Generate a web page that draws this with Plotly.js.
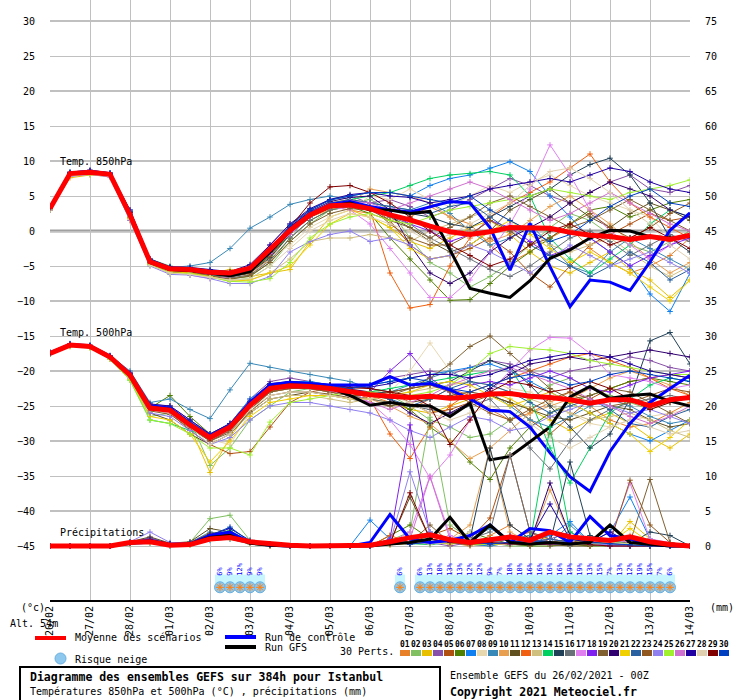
<!DOCTYPE html>
<html>
<head>
<meta charset="utf-8">
<script src="https://cdn.plot.ly/plotly-3.0.1.min.js"></script>
<style>
body { margin: 0; background: #fff; }
#chart { width: 740px; height: 700px; }
</style>
</head>
<body>
<div id="chart"></div>
<script>
// forecast steps (hours from 26/02/2021 00Z), one value every 12h
var hours = [0,12,24,36,48,60,72,84,96,108,120,132,144,156,168,180,192,204,216,228,240,252,264,276,288,300,312,324,336,348,360,372,384];
var dayLabels = ['26/02','27/02','28/02','01/03','02/03','03/03','04/03','05/03','06/03','07/03','08/03','09/03','10/03','11/03','12/03','13/03','14/03'];

var memberColors = ['#e8802a','#80c060','#e8c000','#8850a8','#b05010','#508000','#1080f0','#e8d8b0','#3888b8','#e8a050',
                    '#605020','#f06010','#d0c080','#00d060','#204058','#687078','#e080f0','#8020f0','#806030','#300070',
                    '#f0d000','#2860a0','#905820','#9080f0','#a0f030','#d070d0','#2000a0','#e0d0b0','#800000','#0040c0'];

// temperature 850hPa, 30 perturbations
var pert850 = [
 [3.0,8.0,8.3,8.0, 2.0,-4.6,-5.8,-5.5,-6.2,-6.5,-5.8,-3.0, 0.5,2.5,3.5,3.0,2.5,1.5,2.0,3.5, 2.0,1.0,-2.0,-4.5,-3.0,-1.0,0.5,-2.5, -4.5,-6.0,-5.0,-3.5,-1.0],
 [3.4,8.3,8.5,8.2, 2.5,-4.0,-5.0,-5.8,-6.5,-7.0,-6.8,-5.0, -1.5,1.0,3.0,4.0,4.5,3.0,-1.0,-4.5, -6.0,-8.0,-6.5,-4.5,-2.0,0.5,2.5,1.5, -0.5,-2.0,-3.0,-1.5,0.0],
 [3.1,7.6,8.0,7.8, 1.5,-4.8,-6.0,-6.2,-6.0,-5.5,-6.5,-6.0, -5.5,-1.5,2.0,3.0,2.0,0.5,-1.5,-2.5, -1.0,0.5,1.5,-0.5,-3.0,-5.0,-6.0,-4.5, -3.0,-5.5,-7.0,-9.5,-7.0],
 [3.3,8.2,8.6,8.1, 2.8,-4.2,-5.5,-5.2,-5.8,-6.2,-5.5,-2.0, 1.0,3.0,4.5,5.0,4.0,4.5,3.5,2.0, 3.0,4.5,6.0,7.5,6.5,5.0,4.0,5.5, 7.0,8.0,6.0,5.5,6.5],
 [3.2,8.0,8.2,8.0, 2.2,-4.5,-5.6,-5.7,-6.0,-6.5,-6.0,-3.5, 0.0,2.0,3.2,3.8,3.5,1.5,-2.0,-4.0, -3.5,-2.5,-1.0,-3.0,-6.0,-8.0,-5.0,-2.0, -0.5,1.0,2.5,1.5,2.0],
 [3.0,8.1,8.3,7.9, 1.8,-4.7,-5.8,-5.9,-6.3,-6.8,-6.5,-4.5, -1.0,1.5,3.0,3.5,2.5,-1.0,-4.0,-7.0, -9.9,-9.8,-7.5,-5.0,-3.0,-1.0,1.0,3.0, 3.5,2.0,3.0,4.0,4.5],
 [3.5,8.4,8.6,8.3, 3.0,-4.0,-5.2,-5.3,-5.6,-6.0,-5.0,-2.5, 0.5,3.0,4.5,5.0,5.5,5.5,5.0,6.5, 7.5,8.0,9.0,9.9,8.5,5.0,2.0,-1.0, -3.0,-5.0,-9.0,-11.5,-6.0],
 [3.2,8.0,8.3,8.0, 2.0,-4.5,-5.5,-5.8,-6.0,-6.2,-5.8,-4.0, -2.0,0.5,2.0,3.0,5.0,4.5,6.0,4.5, 3.5,5.0,6.5,5.5,7.0,8.0,6.5,5.0, 4.0,3.0,2.0,-1.0,-3.0],
 [3.3,8.2,8.5,8.1, 2.5,-4.3,-5.2,-5.0,-4.5,-2.5,0.4,2.0, 3.8,4.5,5.0,4.5,4.0,3.5,3.0,4.0, 2.5,0.0,-2.0,-1.0,1.0,-2.0,-5.0,-6.0, -3.0,-1.0,-2.5,-4.0,-5.5],
 [3.1,8.0,8.3,7.9, 2.1,-4.6,-5.7,-5.6,-6.4,-6.8,-6.2,-4.0, -0.5,2.0,3.0,4.0,6.0,5.5,5.0,4.0, 2.0,0.0,-1.5,-0.5,1.5,3.5,5.0,3.0, 1.0,-1.5,-4.0,-6.0,-4.5],
 [3.2,8.1,8.4,8.0, 2.4,-4.4,-5.4,-5.5,-5.9,-6.3,-5.6,-3.2, 0.2,2.4,3.8,4.2,3.5,2.0,0.5,-1.5, -3.0,-2.0,0.0,3.0,4.5,6.0,4.0,2.0, 0.5,2.5,4.0,3.0,1.5],
 [3.4,8.3,8.5,8.1, 2.6,-4.2,-5.4,-5.6,-6.0,-6.4,-5.5,-3.0, 0.0,2.5,4.0,4.5,3.0,-6.0,-11.0,-10.5, -5.0,-1.0,2.0,4.0,5.5,7.0,9.0,11.0, 7.0,4.0,2.0,0.5,-1.0],
 [3.0,7.8,8.1,7.8, 1.6,-4.9,-6.0,-6.0,-6.5,-7.0,-7.0,-6.0, -4.0,-1.5,-1.0,-1.0,-0.5,-1.0,-1.5,0.0, 1.0,2.0,3.0,1.5,0.0,-2.0,-3.0,-2.0, -1.0,-3.0,-5.0,-6.5,-5.0],
 [3.3,8.2,8.4,8.0, 2.3,-4.5,-5.6,-5.8,-6.1,-6.5,-5.9,-3.5, -0.5,2.0,3.5,4.5,5.0,5.5,6.5,7.5, 8.0,8.2,8.5,8.0,5.0,-1.0,-4.0,-6.0, -4.0,-2.0,1.0,3.0,2.0],
 [3.2,8.1,8.3,8.0, 2.2,-4.6,-5.7,-5.8,-6.2,-6.6,-6.0,-3.8, -0.5,2.0,3.5,4.0,3.5,3.0,2.5,2.0, 1.0,0.5,2.0,3.5,5.0,6.0,8.0,9.5, 10.4,8.0,4.0,-1.0,-3.0],
 [3.1,8.0,8.2,7.9, 2.0,-4.7,-5.8,-6.0,-6.3,-6.7,-6.3,-4.2, -1.0,1.5,3.0,3.5,3.0,2.0,1.0,-1.0, -2.5,-4.0,-5.5,-6.5,-5.0,-3.0,-1.0,0.0, -1.5,-3.5,-2.0,-0.5,-1.5],
 [3.4,8.3,8.6,8.2, 2.7,-4.3,-5.8,-6.3,-6.8,-6.5,-5.5,-3.0, -0.5,2.0,3.5,3.0,1.0,-2.5,-6.0,-9.5, -9.5,-7.0,-3.0,1.0,6.0,12.3,8.0,3.0, 0.0,-2.0,-4.0,-2.0,-0.5],
 [3.2,8.1,8.4,8.0, 2.4,-4.4,-5.5,-5.6,-6.0,-6.4,-5.7,-3.3, 0.0,2.3,3.6,4.0,3.5,2.5,1.0,0.0, -1.5,-0.5,1.5,0.5,-1.5,-3.5,-2.5,-1.0, -3.0,-5.0,-3.5,-2.0,-1.0],
 [3.0,7.9,8.2,7.9, 1.9,-4.8,-5.9,-6.0,-6.4,-6.9,-6.4,-4.5, -1.5,1.0,2.5,3.2,3.0,1.5,0.5,-1.0, 0.5,2.0,4.0,5.0,3.5,2.0,0.5,1.5, 3.0,4.5,3.0,1.5,0.0],
 [3.3,8.2,8.5,8.1, 2.6,-4.2,-5.3,-5.4,-5.8,-6.1,-5.3,-2.8, 0.6,2.8,4.2,4.8,5.0,3.0,-2.0,-6.0, -7.5,-6.0,-3.0,-1.0,0.5,2.0,4.0,5.5, 7.0,6.0,5.0,3.0,2.0],
 [3.1,8.0,8.2,7.9, 2.0,-4.7,-5.8,-6.0,-6.5,-7.2,-7.0,-6.0, -5.0,-2.0,1.0,2.5,2.0,0.5,-2.5,-4.0, -3.5,-2.0,0.0,1.5,-0.5,-2.5,-4.5,-3.0, -4.5,-6.0,-8.0,-10.0,-7.0],
 [3.4,8.3,8.5,8.1, 2.7,-4.3,-5.4,-5.6,-5.9,-6.3,-5.6,-3.1, 0.3,2.6,4.0,4.5,4.0,3.5,3.0,2.5, 3.5,4.0,2.0,0.0,-2.0,-3.5,-5.0,-6.5, -5.0,-3.0,-4.5,-7.0,-5.5],
 [3.2,8.1,8.3,8.0, 2.3,-4.5,-5.6,-5.7,-6.1,-6.5,-6.0,-3.6, -0.2,2.2,3.6,4.2,3.5,1.0,-1.0,-2.0, -2.0,-0.5,1.5,0.0,-2.0,-1.0,1.0,2.5, 0.5,-1.0,0.5,2.5,4.0],
 [3.0,7.8,8.1,7.7, 1.5,-5.0,-6.2,-6.3,-6.8,-7.5,-7.5,-6.5, -3.0,-1.5,-0.5,0.0,-1.5,-1.0,-2.0,-4.0, -3.5,-2.0,-3.0,-4.5,-6.0,-4.0,-2.0,-3.5, -5.0,-4.0,-3.0,-4.5,-6.0],
 [3.1,7.9,8.2,7.9, 1.8,-4.8,-6.0,-6.1,-6.6,-7.2,-7.3,-6.8, -4.5,-1.0,1.0,2.0,2.5,1.5,1.0,2.0, 3.0,3.5,4.0,4.5,5.0,6.0,5.5,5.0, 4.5,5.5,6.0,6.5,7.3],
 [3.3,8.2,8.5,8.1, 2.5,-4.3,-5.4,-5.5,-5.9,-6.3,-5.6,-3.2, 0.2,2.4,3.8,4.3,4.0,3.0,4.0,5.0, 6.0,7.0,6.0,4.5,3.0,1.5,2.5,4.0, 5.5,4.0,2.5,1.0,0.0],
 [3.5,8.4,8.7,8.3, 3.0,-4.0,-5.1,-5.2,-5.5,-5.8,-4.8,-2.0, 1.0,3.2,4.5,5.2,5.5,5.0,4.8,4.0, 4.5,5.0,6.0,6.5,7.0,7.5,7.0,8.0, 9.0,8.5,7.0,6.0,5.5],
 [3.0,7.9,8.1,7.8, 1.7,-4.9,-6.0,-6.2,-6.6,-7.0,-6.8,-5.0, -2.5,0.0,1.5,2.5,2.0,1.0,0.0,-1.5, -0.5,1.0,2.5,4.0,6.5,8.5,9.0,7.5, 5.5,3.0,1.0,-2.0,-4.0],
 [3.3,8.2,8.5,8.1, 2.6,-4.2,-5.3,-5.5,-5.8,-6.2,-5.4,-2.9, 0.5,4.0,6.3,6.5,5.5,4.0,2.0,0.0, -2.0,-3.5,-5.0,-4.0,-2.0,0.0,1.0,-0.5, -2.0,-1.0,0.5,-1.0,-2.5],
 [3.4,8.3,8.6,8.2, 2.8,-4.1,-5.2,-5.4,-5.7,-6.0,-5.1,-2.6, 0.8,3.0,4.4,5.0,5.5,5.5,5.0,4.5, 4.0,5.0,3.0,1.5,0.0,-1.5,-0.5,1.5, 3.5,5.0,6.0,4.0,3.5]
];
var ctl850  = [3.3,8.3,8.5,8.2, 2.5,-4.3,-5.5,-5.5,-5.9,-6.3,-5.5,-3.0, 0.3,2.5,3.8,4.2,3.5,3.0,2.7,3.5, 4.2,4.0,0.5,-5.6,1.1,-5.1,-10.8,-7.0, -7.3,-8.5,-4.4,0.1,2.6];
var gfs850  = [3.2,8.2,8.4,8.1, 2.2,-4.5,-5.5,-5.6,-6.0,-6.4,-5.8,-3.0, 0.0,2.2,3.5,4.0,3.0,3.0,2.5,2.8, -2.7,-8.2,-8.9,-9.5,-7.1,-3.9,-2.7,-1.0, 0.1,0.0,-0.8,-1.0,-0.8];
var mean850 = [3.2,8.2,8.4,8.1, 2.3,-4.4,-5.4,-5.5,-5.9,-6.0,-5.3,-2.7, 0.1,2.3,3.6,3.7,3.2,2.3,1.6,0.7, -0.1,-0.5,-0.1,0.5,0.4,0.4,-0.2,-0.6, -0.8,-1.2,-0.8,-1.2,-0.6];

// temperature 500hPa, 30 perturbations
var pert500 = [
 [-17.4,-16.2,-16.4,-17.9, -20.4,-25.0,-25.5,-27.5,-29.8,-28.5,-25.0,-22.0, -21.5,-22.0,-22.5,-23.0,-23.5,-24.5,-25.5,-24.0, -22.5,-23.5,-25.5,-27.0,-26.0,-24.5,-23.0,-25.0, -27.0,-28.0,-27.5,-26.0,-24.5],
 [-17.6,-16.4,-16.6,-18.2, -21.0,-26.5,-26.0,-27.0,-33.5,-31.0,-27.0,-25.0, -23.0,-22.5,-22.0,-22.0,-22.5,-23.5,-25.0,-27.0, -28.0,-29.5,-29.0,-27.0,-24.0,-22.0,-21.0,-22.5, -23.5,-24.5,-25.5,-24.5,-23.5],
 [-17.5,-16.3,-16.5,-18.0, -20.5,-25.5,-25.0,-28.0,-34.5,-29.5,-25.5,-23.0, -22.5,-22.5,-23.0,-23.5,-24.0,-24.5,-25.5,-26.0, -25.0,-24.0,-23.0,-24.0,-25.5,-27.0,-28.5,-27.0, -26.0,-27.5,-29.5,-31.0,-29.0],
 [-17.3,-16.1,-16.3,-17.8, -20.2,-24.8,-25.0,-27.0,-29.0,-27.5,-24.0,-21.5, -21.0,-21.5,-22.0,-22.5,-22.0,-21.0,-20.5,-20.0, -20.5,-19.5,-18.5,-19.0,-20.0,-21.0,-20.0,-19.5, -19.0,-18.0,-18.5,-19.5,-20.0],
 [-17.6,-16.4,-16.6,-18.1, -20.8,-25.5,-26.0,-28.5,-30.5,-31.8,-31.5,-28.0, -24.5,-23.0,-22.5,-22.0,-22.5,-23.0,-24.5,-26.0, -25.5,-24.5,-23.5,-24.5,-27.0,-29.0,-26.5,-24.0, -22.5,-21.5,-21.0,-20.5,-21.0],
 [-17.5,-16.3,-16.5,-18.0, -20.6,-25.3,-23.5,-26.5,-29.0,-28.0,-25.0,-22.8, -22.3,-22.5,-22.8,-23.2,-23.5,-24.0,-25.5,-28.0, -30.0,-33.0,-35.5,-31.0,-28.0,-26.0,-24.5,-23.5, -22.5,-21.5,-21.0,-21.5,-22.0],
 [-17.4,-16.2,-16.4,-17.9, -20.4,-24.8,-25.2,-27.2,-29.0,-27.5,-24.0,-22.0, -21.5,-21.5,-22.0,-22.5,-22.0,-21.5,-21.0,-20.5, -20.0,-19.5,-19.0,-20.0,-21.5,-23.0,-24.5,-26.0, -27.5,-29.0,-30.0,-28.5,-27.0],
 [-17.5,-16.3,-16.5,-18.0, -20.6,-25.3,-25.8,-27.8,-29.8,-30.5,-26.0,-23.0, -22.5,-22.0,-22.0,-22.5,-23.0,-23.0,-20.0,-16.0, -20.0,-22.0,-21.5,-22.5,-23.0,-24.5,-26.0,-27.5, -28.0,-27.0,-26.5,-26.0,-25.5],
 [-17.3,-16.1,-16.3,-17.8, -20.0,-24.5,-24.0,-25.5,-26.8,-22.7,-18.9,-19.5, -20.0,-20.5,-21.0,-21.5,-22.5,-23.0,-22.0,-21.0, -20.0,-21.5,-23.0,-25.0,-27.0,-28.0,-26.5,-25.0, -24.0,-25.0,-26.5,-27.5,-27.0],
 [-17.5,-16.3,-16.5,-18.0, -20.6,-25.5,-26.0,-28.0,-30.0,-28.5,-25.0,-23.0, -22.5,-22.5,-23.0,-23.5,-24.0,-25.0,-26.5,-27.5, -30.0,-32.5,-31.0,-28.5,-26.0,-25.0,-24.0,-22.5, -21.0,-20.0,-21.0,-22.0,-23.5],
 [-17.6,-16.4,-16.6,-18.1, -20.9,-26.0,-27.0,-29.0,-30.5,-29.0,-26.0,-24.0, -23.5,-23.0,-23.5,-24.0,-24.5,-25.0,-24.5,-24.0, -23.5,-23.0,-23.5,-24.5,-25.5,-26.5,-27.0,-26.0, -25.0,-25.5,-27.0,-28.0,-27.5],
 [-17.5,-16.3,-16.5,-18.0, -20.6,-25.2,-25.5,-27.5,-29.3,-27.8,-24.7,-22.3, -22.0,-22.0,-22.3,-22.8,-24.0,-29.0,-32.5,-28.0, -25.0,-23.0,-22.0,-21.0,-20.0,-19.0,-18.0,-17.5, -18.5,-19.5,-21.0,-22.5,-23.5],
 [-17.4,-16.2,-16.4,-17.9, -20.5,-25.0,-25.3,-27.5,-29.5,-28.5,-26.0,-24.0, -23.5,-23.5,-24.0,-24.5,-24.0,-23.5,-23.0,-22.5, -22.0,-21.5,-22.0,-23.0,-24.0,-25.0,-26.0,-27.0, -26.5,-26.0,-27.0,-28.5,-29.5],
 [-17.6,-16.4,-16.6,-18.3, -21.3,-27.0,-27.5,-28.5,-29.5,-28.0,-25.0,-23.0, -22.0,-22.0,-22.5,-23.0,-23.0,-22.5,-22.0,-21.5, -21.0,-20.5,-20.0,-19.5,-24.0,-31.0,-36.0,-31.0, -26.0,-24.0,-22.0,-21.0,-21.5],
 [-17.5,-16.3,-16.5,-18.0, -20.6,-25.3,-25.6,-27.7,-29.5,-28.0,-24.9,-22.5, -22.1,-22.2,-22.5,-23.0,-23.2,-23.0,-22.5,-22.0, -21.5,-20.0,-18.5,-19.5,-22.0,-25.0,-28.0,-31.0, -29.0,-24.0,-15.7,-14.5,-19.0],
 [-17.4,-16.2,-16.4,-17.9, -20.5,-25.2,-25.5,-27.8,-30.0,-28.5,-25.5,-23.0, -22.5,-22.5,-23.0,-23.5,-24.0,-24.5,-25.0,-25.5, -26.0,-25.0,-24.0,-27.0,-31.0,-34.0,-30.0,-27.0, -25.5,-24.5,-24.0,-23.5,-24.0],
 [-17.5,-16.3,-16.5,-18.0, -20.7,-25.5,-26.0,-28.0,-30.0,-28.5,-25.0,-22.5, -22.0,-22.0,-22.3,-22.8,-24.5,-27.0,-30.5,-35.3, -32.0,-27.0,-23.0,-20.0,-17.0,-15.2,-15.3,-17.5, -20.5,-21.0,-21.5,-22.5,-22.0],
 [-17.4,-16.2,-16.4,-17.9, -20.4,-25.0,-25.3,-27.5,-29.3,-27.8,-24.5,-22.0, -21.8,-22.0,-22.3,-22.8,-23.0,-20.0,-17.5,-21.0, -23.0,-22.0,-21.5,-22.0,-21.0,-20.0,-21.0,-22.5, -23.0,-22.0,-21.0,-20.5,-20.0],
 [-17.6,-16.4,-16.6,-18.1, -20.8,-25.7,-26.2,-28.2,-30.0,-28.8,-25.8,-23.5, -23.0,-23.0,-23.3,-23.8,-24.0,-23.5,-22.5,-21.0, -19.0,-16.5,-15.0,-17.5,-20.0,-22.5,-24.0,-23.5, -22.5,-23.0,-24.5,-26.0,-27.5],
 [-17.4,-16.2,-16.4,-17.9, -20.4,-25.0,-25.3,-27.5,-29.3,-27.8,-24.5,-22.0, -21.5,-21.8,-22.2,-22.6,-23.0,-24.0,-26.0,-27.5, -26.0,-24.5,-22.5,-20.5,-19.0,-18.5,-18.0,-18.5, -18.0,-17.5,-17.0,-17.5,-18.0],
 [-17.6,-16.5,-16.7,-18.3, -21.2,-26.5,-27.0,-29.0,-33.0,-30.0,-26.5,-24.5, -24.0,-23.5,-23.5,-24.0,-24.0,-23.5,-23.0,-22.0, -21.5,-22.0,-23.5,-25.0,-24.0,-23.0,-24.5,-26.0, -27.5,-29.0,-31.5,-29.5,-27.0],
 [-17.5,-16.3,-16.5,-18.0, -20.6,-25.3,-25.6,-27.6,-29.4,-28.0,-25.0,-22.5, -22.0,-22.2,-22.5,-23.0,-23.3,-24.0,-25.0,-24.0, -22.5,-21.5,-22.0,-23.0,-24.5,-26.0,-25.0,-24.0, -25.5,-27.5,-28.0,-26.5,-25.5],
 [-17.5,-16.3,-16.5,-18.0, -20.7,-25.4,-25.8,-28.0,-30.0,-28.5,-25.5,-23.0, -22.5,-22.5,-23.0,-23.5,-23.5,-23.0,-22.5,-22.0, -23.0,-24.5,-26.0,-27.0,-25.5,-24.0,-23.0,-24.0, -25.0,-24.5,-23.5,-22.5,-23.0],
 [-17.6,-16.4,-16.6,-18.2, -21.0,-26.0,-26.5,-28.5,-30.5,-29.5,-27.0,-25.0, -24.5,-24.5,-25.0,-25.5,-26.0,-27.0,-28.5,-29.5, -28.0,-26.5,-27.0,-28.5,-28.0,-26.5,-25.5,-24.5, -25.0,-26.0,-25.5,-26.5,-27.5],
 [-17.6,-16.5,-16.7,-18.3, -21.3,-27.0,-27.5,-29.0,-31.0,-31.0,-32.0,-27.3, -24.5,-24.0,-23.5,-23.0,-23.0,-23.5,-23.5,-23.0, -22.0,-20.0,-17.5,-16.5,-16.8,-17.0,-17.5,-18.5, -19.0,-19.5,-20.0,-20.5,-20.5],
 [-17.4,-16.2,-16.4,-17.9, -20.4,-25.0,-25.4,-27.4,-29.2,-27.7,-24.6,-22.2, -22.0,-22.3,-22.8,-23.5,-24.5,-25.5,-24.5,-23.5, -22.0,-21.0,-20.0,-19.5,-20.5,-21.5,-22.5,-24.0, -25.0,-26.5,-27.5,-26.5,-25.0],
 [-17.4,-16.2,-16.4,-17.9, -20.3,-24.7,-25.0,-27.0,-29.0,-27.5,-24.3,-21.8, -21.5,-21.7,-22.0,-22.3,-22.3,-21.8,-21.0,-20.5, -20.5,-21.0,-20.5,-19.5,-18.5,-18.0,-17.5,-17.5, -18.0,-19.0,-20.0,-20.5,-21.0],
 [-17.5,-16.4,-16.6,-18.2, -20.8,-25.5,-26.0,-28.0,-30.5,-29.0,-25.5,-23.5, -23.0,-23.0,-23.5,-24.0,-24.0,-23.5,-24.5,-26.0, -27.0,-26.0,-25.0,-26.0,-27.5,-29.5,-31.0,-29.5, -28.0,-27.0,-28.0,-29.0,-28.5],
 [-17.5,-16.3,-16.5,-18.0, -20.6,-25.3,-25.7,-27.8,-29.6,-28.0,-24.8,-22.4, -22.0,-22.0,-22.0,-22.4,-22.5,-23.0,-23.5,-25.0, -30.5,-27.0,-23.0,-21.5,-22.0,-23.0,-22.5,-21.5, -22.5,-24.0,-25.5,-24.5,-23.5],
 [-17.4,-16.2,-16.4,-17.9, -20.4,-24.9,-25.2,-27.3,-29.2,-27.6,-24.4,-21.9, -21.6,-21.8,-22.1,-22.5,-22.0,-21.5,-21.0,-21.5, -22.5,-23.0,-22.0,-21.0,-20.5,-21.0,-22.0,-21.5, -20.5,-20.0,-20.5,-21.0,-21.5]
];
var ctl500  = [-17.4,-16.2,-16.4,-17.9, -20.4,-25.0,-25.3,-27.5,-29.3,-27.8,-24.5,-22.0, -21.6,-21.8,-22.0,-22.0,-22.0,-20.8,-22.0,-21.8, -22.7,-24.0,-25.6,-25.8,-28.0,-31.7,-35.1,-37.2, -31.5,-27.5,-24.5,-22.5,-20.6];
var gfs500  = [-17.5,-16.3,-16.5,-18.0, -20.6,-25.2,-25.5,-27.6,-29.5,-28.0,-24.8,-22.4, -22.0,-22.1,-22.4,-23.5,-24.9,-24.5,-24.9,-25.0, -26.5,-24.6,-32.7,-32.2,-30.1,-28.0,-23.7,-22.2, -23.9,-23.5,-23.3,-24.3,-25.0];
var mean500 = [-17.5,-16.3,-16.5,-18.0, -20.6,-25.3,-25.6,-27.7,-29.5,-28.0,-24.9,-22.5, -22.1,-22.2,-22.5,-23.0,-23.4,-23.6,-23.8,-23.6, -23.9,-23.7,-23.3,-23.2,-23.6,-23.8,-24.1,-24.6, -24.1,-24.1,-25.0,-24.1,-23.8];

// precipitation (mm, right axis), 30 perturbations
var pertRain = [
 [0,0,0,0, 0.5,0.8,0.2,0.3,1.2,1.5,0.5,0.2, 0,0,0,0,0,0.5,1.0,2.0, 0.5,0,1.5,3.0,1.0,0.5,0.2,0, 0.5,1.5,0.5,0,0],
 [0,0,0,0, 0.3,0.6,0,0.5,3.9,4.4,0.8,0.3, 0,0,0,0,0,0.8,2.0,18.4, 3.0,1.0,0.5,0,0,0.5,1.0,0.3, 0,0,0.5,0.2,0],
 [0,0,0,0, 0.4,0.7,0.1,0.2,1.5,1.0,0.3,0, 0,0,0,0,0,0.3,0.5,1.0, 0.5,0.2,0,0.5,1.5,1.0,0.5,0.2, 0,3.5,1.0,0.3,0],
 [0,0,0,0, 0.5,1.0,0.3,0.4,1.0,1.8,0.6,0.1, 0,0,0,0,0,0.5,1.0,0.5, 0,0.5,1.0,0.3,0,1.0,2.0,0.5, 0.5,0.2,0,0.5,0],
 [0,0,0,0, 0.3,0.5,0.1,0.3,1.3,1.6,0.4,0.1, 0,0,0,0,0,0.2,0.5,1.5, 2.5,1.0,4.0,13.0,2.0,0.5,0.3,0.2, 0,0,0.5,0.2,0],
 [0,0,0,0, 0.4,0.8,0.2,0.3,1.4,1.9,0.5,0.2, 0,0,0,0,0,1.5,3.0,1.0, 0.5,2.0,1.0,0.3,0,0,0.2,0, 0,0,0,0,0],
 [0,0,0,0, 0.2,0.4,0,0.2,0.8,1.0,0.3,0, 0,0,0,0,3.7,1.0,0.5,2.0, 0.5,0.2,0,0.5,0.8,1.5,3.5,0.5, 2.0,7.0,1.0,0.3,0],
 [0,0,0,0, 0.3,0.5,0.1,0.2,1.0,1.2,0.3,0, 0,0,0,0,0,0.5,0.3,0.2, 1.0,2.0,0.5,1.0,0.5,0.2,0,0.3, 0,0,0.2,0,0],
 [0,0,0,0, 0.5,1.2,0.3,0.5,2.0,1.5,0.4,0.1, 0,0,0,0,0,1.0,0.5,0.3, 0.5,1.0,2.5,1.0,1.5,0.5,3.0,0.5, 1.0,0.3,0.5,0.2,0],
 [0,0,0,0, 0.4,0.8,0.2,0.3,1.5,2.0,0.5,0.2, 0,0,0,0,0,0.3,0.5,0.5, 1.0,3.0,14.0,2.0,0.5,8.0,1.5,0.5, 0.2,0,0.3,0,0],
 [0,0,0,0, 0.6,1.3,0.4,0.6,2.5,2.0,0.5,0.1, 0,0,0,0,0,0.5,7.0,1.0, 0.5,0.3,0.5,0.3,0.5,0.2,0,0, 0.5,1.0,0.2,0,0],
 [0,0,0,0, 0.3,0.6,0.1,0.3,1.2,1.8,0.5,0.1, 0,0,0,0,0,1.5,0.5,1.0, 0.5,0.2,0.5,1.0,2.0,1.0,0.5,0.3, 0.2,0,0.3,0,0],
 [0,0,0,0, 0.3,0.6,0.1,0.2,1.0,1.3,0.3,0, 0,0,0,0,0,0.2,0.5,0.8, 0.3,0.5,0.2,0.5,1.0,0.5,0.3,0.5, 1.0,0.5,0.2,0,0],
 [0,0,0,0, 0.4,0.9,0.2,0.4,1.6,2.2,0.6,0.2, 0,0,0,0,0,0.5,0.3,0.2, 0.5,0.3,0.5,1.0,0.5,17.0,2.0,0.5, 0.2,0,0,0,0],
 [0,0,0,0, 0.5,1.0,0.3,0.4,1.8,1.6,0.4,0.1, 0,0,0,0,0,0.3,0.5,0.3, 0.5,1.0,14.0,3.0,1.0,0.5,12.0,1.5, 0.5,0.3,2.0,1.5,0],
 [0,0,0,0, 0.4,0.7,0.2,0.3,1.3,1.5,0.4,0.1, 0,0,0,0,0,0.3,0.5,0.5, 0.3,1.0,2.0,13.0,2.0,1.0,0.5,0.3, 0.2,0,0,0,0],
 [0,0,0,0, 0.3,0.6,0.1,0.2,1.0,1.4,0.4,0.1, 0,0,0,0,0,0.5,2.0,10.0, 1.5,0.5,0.3,0.2,0.5,1.0,0.5,0.5, 1.0,9.0,1.0,0.5,0],
 [0,0,0,0, 0.5,1.1,0.3,0.4,1.5,1.7,0.4,0.1, 0,0,0,0,0,1.0,17.3,1.5, 0.5,0.3,0.2,0.5,0.3,0.2,0.5,0.3, 0,0,0,0,0],
 [0,0,0,0, 0.3,0.6,0.1,0.3,1.2,1.4,0.4,0.1, 0,0,0,0,0,0.3,0.5,3.0, 0.5,0.2,0.3,0.5,0.2,0.5,1.0,0.5, 0.3,0.5,9.5,0.5,0],
 [0,0,0,0, 0.4,0.8,0.2,0.3,1.4,1.8,0.5,0.2, 0,0,0,0,0,0.5,0.5,1.0, 0.5,1.0,0.5,1.5,0.5,9.0,1.5,0.5, 0.3,0.2,0,0,0],
 [0,0,0,0, 0.3,0.5,0.1,0.2,1.0,1.2,0.3,0, 0,0,0,0,0,0.2,0.3,0.5, 0.3,0.5,0.2,0.3,0.5,0.3,0.5,0.3, 0.5,2.5,0.5,0.2,0],
 [0,0,0,0, 0.4,0.7,0.2,0.3,1.2,1.6,0.4,0.1, 0,0,0,0,0,0.5,0.3,0.5, 0.8,0.5,0.5,0.3,0.5,1.0,0.5,0.3, 0.5,0.3,0.2,0,0],
 [0,0,0,0, 0.5,1.0,0.3,0.5,1.8,2.0,0.5,0.1, 0,0,0,0,0,0.3,0.5,0.3, 0.5,0.2,0.5,0.3,0.5,0.3,0.5,1.0, 0.5,9.4,3.0,0.5,0],
 [0,0,0,0, 0.6,2.0,0.5,0.5,1.5,1.3,0.3,0.1, 0,0,0,0,0,0.5,10.6,2.0, 0.5,0.3,0.5,1.0,0.5,0.3,0.5,0.3, 0.2,0,0,0,0],
 [0,0,0,0, 0.3,0.5,0.1,0.2,1.0,1.2,0.3,0, 0,0,0,0,0,0.2,0.5,0.3, 0.5,0.3,0.2,0.5,0.3,0.5,0.3,0.2, 0.5,0.3,0.2,0,0],
 [0,0,0,0, 0.4,0.8,0.2,0.3,1.2,1.5,0.4,0.1, 0,0,0,0,0,0.3,1.0,9.9, 1.0,0.5,0.3,0.5,0.3,0.5,0.3,0.5, 1.0,0.5,0.2,0,0],
 [0,0,0,0, 0.5,0.9,0.3,0.4,1.6,2.5,0.8,0.2, 0,0,0,0,0,0.5,0.3,0.5, 1.0,0.5,0.3,0.5,1.0,6.0,1.0,0.5, 2.0,0.5,0.2,0,0],
 [0,0,0,0, 0.3,0.6,0.1,0.2,1.1,1.3,0.3,0, 0,0,0,0,0,0.3,0.5,0.3, 0.5,1.0,0.5,0.3,0.2,0.5,0.3,0.2, 0.5,0.3,0,0,0],
 [0,0,0,0, 0.4,0.8,0.2,0.3,1.4,1.7,0.5,0.1, 0,0,0,0,0,0.3,7.6,1.0, 0.5,0.3,0.5,0.3,0.2,0.3,0.5,0.2, 0,0,0,0,0],
 [0,0,0,0, 0.5,0.9,0.3,0.4,1.5,2.7,0.6,0.2, 0,0,0,0,0,0.5,0.3,0.5, 0.8,0.5,0.3,0.5,0.8,0.5,0.3,0.5, 0.3,0.2,0,0,0]
];
var ctlRain  = [0,0,0,0, 0.5,0.8,0.2,0.3,1.5,2.0,0.5,0.1, 0,0,0,0,0.5,4.5,1.0,0.5, 0.8,1.5,3.0,0.5,2.5,2.2,0.5,4.2, 1.5,1.0,0.3,0,0];
var gfsRain  = [0,0,0,0, 0.4,0.7,0.2,0.3,1.2,1.5,0.4,0.1, 0,0,0,0,0,0.3,0.5,1.0, 4.1,0.5,3.0,0.5,0.3,0.5,0.3,0.5, 3.0,0.5,0.2,0,0];
var meanRain = [0,0,0,0, 0.5,0.6,0.1,0.2,1.0,1.2,0.6,0.3, 0.1,0,0,0,0.1,0.6,1.2,1.6, 0.9,0.5,0.9,1.3,0.8,2.0,1.3,1.0, 0.8,1.3,0.6,0.2,0];

// snow risk (forecast hour, % of members)
var snowHours = [102,108,114,120,126, 210, 222,228,234,240,246,252,258,264,270,276,282,288,294,300,306,312,318,324,330,336,342,348,354,360,366,372];
var snowPct   = [6,9,12,9,9, 6, 6,13,10,13,13,12,12,9,7,10,10,16,16,16,16,19,19,13,15,7,13,12,19,15,7,6];

var START = Date.UTC(2021, 1, 26);
function toDate(h) {
    return new Date(START + h * 3600e3).toISOString().slice(0, 16).replace('T', ' ');
}
var times = hours.map(toDate);
var FONT = 'DejaVu Sans Mono, monospace';

// pixel position on the 740x700 page -> paper coords (plot area 50..690 x 0..600)
function PX(x) { return (x - 50) / 640; }
function PY(y) { return (600 - y) / 600; }

var traces = [];
for (var m = 0; m < 30; m++) {
    var c = memberColors[m];
    [[pert850[m], 'y'], [pert500[m], 'y'], [pertRain[m], 'y2']].forEach(function (s) {
        traces.push({
            x: times, y: s[0], yaxis: s[1], mode: 'lines+markers',
            line: {color: c, width: 1},
            marker: {symbol: 'cross-thin', size: 4, line: {color: c, width: 1}}
        });
    });
}
function thick(ys, axis, color, w) {
    return {x: times, y: ys, yaxis: axis, mode: 'lines', line: {color: color, width: w}};
}
traces.push(thick(ctl850, 'y', '#0000ff', 3), thick(ctl500, 'y', '#0000ff', 3), thick(ctlRain, 'y2', '#0000ff', 3));
traces.push(thick(gfs850, 'y', '#000000', 3), thick(gfs500, 'y', '#000000', 3), thick(gfsRain, 'y2', '#000000', 3));
traces.push(thick(mean850, 'y', '#ff0000', 5), thick(mean500, 'y', '#ff0000', 5), thick(meanRain, 'y2', '#ff0000', 5));

// snow icons under the plot
var snowTimes = snowHours.map(toDate);
traces.push({x: snowTimes, y: snowHours.map(function () { return -49.8; }), mode: 'markers',
    marker: {symbol: 'square', size: 10, color: '#c8f6ff'}});
traces.push({x: snowTimes, y: snowHours.map(function () { return -50.9; }), mode: 'markers',
    marker: {symbol: 'circle', size: 11, color: '#8ec8ee', line: {color: '#6ab0e0', width: 1}}});
traces.push({x: snowTimes, y: snowHours.map(function () { return -50.9; }), mode: 'markers',
    marker: {symbol: 'asterisk-open', size: 7, line: {color: '#ffffff', width: 1}}});

var shapes = [];
[-40, -30, -20, -10, 10, 20, 30].forEach(function (v) {
    shapes.push({type: 'line', xref: 'paper', x0: 0, x1: 1, yref: 'y', y0: v, y1: v,
        line: {color: '#c0c0c0', width: 2}, layer: 'between'});
});
shapes.push({type: 'line', xref: 'paper', x0: 0, x1: 1, yref: 'y', y0: 0, y1: 0,
    line: {color: '#a0a0a0', width: 3}, layer: 'between'});

function legLine(x0, x1, y, color) {
    shapes.push({type: 'line', xref: 'paper', yref: 'paper', x0: PX(x0), x1: PX(x1), y0: PY(y), y1: PY(y),
        line: {color: color, width: 4}});
}
legLine(35, 66, 638, '#ff0000');
legLine(225, 256, 637, '#0000ff');
legLine(225, 256, 647, '#000000');
shapes.push({type: 'circle', xref: 'paper', yref: 'paper', x0: PX(55), x1: PX(66), y0: PY(664), y1: PY(653),
    fillcolor: '#8ec8ee', line: {color: '#6ab0e0', width: 1}});
memberColors.forEach(function (c, i) {
    shapes.push({type: 'rect', xref: 'paper', yref: 'paper', x0: PX(400 + 11 * i), x1: PX(410 + 11 * i),
        y0: PY(656), y1: PY(650), fillcolor: c, line: {width: 0}});
});
shapes.push({type: 'rect', xref: 'paper', yref: 'paper', x0: PX(20), x1: PX(440), y0: PY(702), y1: PY(667),
    line: {color: '#000', width: 2}});

var annotations = [];
function txt(x, y, t, size, anchor) {
    annotations.push({xref: 'paper', yref: 'paper', x: PX(x), y: PY(y), text: t, showarrow: false,
        xanchor: anchor || 'left', yanchor: 'middle', font: {family: FONT, size: size || 10, color: '#000'}});
}
txt(58, 161, 'Temp. 850hPa');
txt(58, 333, 'Temp. 500hPa');
txt(58, 532, 'Précipitations');
txt(19, 607, '(°c)');
txt(8, 623, 'Alt. 54m');
txt(708, 607, '(mm)');
txt(73, 637, 'Moyenne des scénarios');
txt(263, 637, 'Run de contrôle');
txt(263, 647, 'Run GFS');
txt(73, 659, 'Risque neige');
txt(338, 651, '30 Perts.');
memberColors.forEach(function (c, i) {
    txt(405 + 11 * i, 644, '<b>' + (i < 9 ? '0' : '') + (i + 1) + '</b>', 8, 'center');
});
txt(28, 677, '<b>Diagramme des ensembles GEFS sur 384h pour Istanbul</b>', 11.5);
txt(28, 691, 'Températures 850hPa et 500hPa (°C) , précipitations (mm)');
txt(448, 675, 'Ensemble GEFS du 26/02/2021 - 00Z');
txt(448, 692, '<b>Copyright 2021 Meteociel.fr</b>', 11.5);

snowHours.forEach(function (h, i) {
    annotations.push({xref: 'x', yref: 'y', x: toDate(h), y: -49.6, text: snowPct[i] + '%',
        showarrow: false, textangle: -90, xanchor: 'center', yanchor: 'bottom',
        font: {family: FONT, size: 7, color: '#0000ff'}});
});

var leftTicks = [], rightTicks = [];
for (var v = -45; v <= 30; v += 5) { leftTicks.push(v); rightTicks.push(v + 45); }

var layout = {
    width: 740, height: 700,
    margin: {l: 50, r: 50, t: 0, b: 100},
    paper_bgcolor: '#ffffff', plot_bgcolor: '#ffffff',
    showlegend: false,
    font: {family: FONT, size: 10, color: '#000'},
    xaxis: {
        type: 'date', range: [toDate(0), toDate(384)],
        tickvals: dayLabels.map(function (d, i) { return toDate(24 * i); }),
        ticktext: dayLabels, tickangle: -90,
        showgrid: true, gridcolor: '#c0c0c0', gridwidth: 1,
        showline: true, linecolor: '#000', linewidth: 2,
        ticks: '', zeroline: false, tickfont: {family: FONT, size: 10}
    },
    yaxis: {
        range: [-52.714, 33], tickvals: leftTicks,
        gridcolor: '#c0c0c0', gridwidth: 1, zeroline: false, ticks: '',
        ticklabelstandoff: 14, tickfont: {family: FONT, size: 10}
    },
    yaxis2: {
        overlaying: 'y', side: 'right', range: [-7.714, 78], tickvals: rightTicks,
        showgrid: false, zeroline: false, ticks: '',
        ticklabelstandoff: 14, tickfont: {family: FONT, size: 10}
    },
    shapes: shapes,
    annotations: annotations
};

Plotly.newPlot('chart', traces, layout, {staticPlot: true});
</script>
</body>
</html>
